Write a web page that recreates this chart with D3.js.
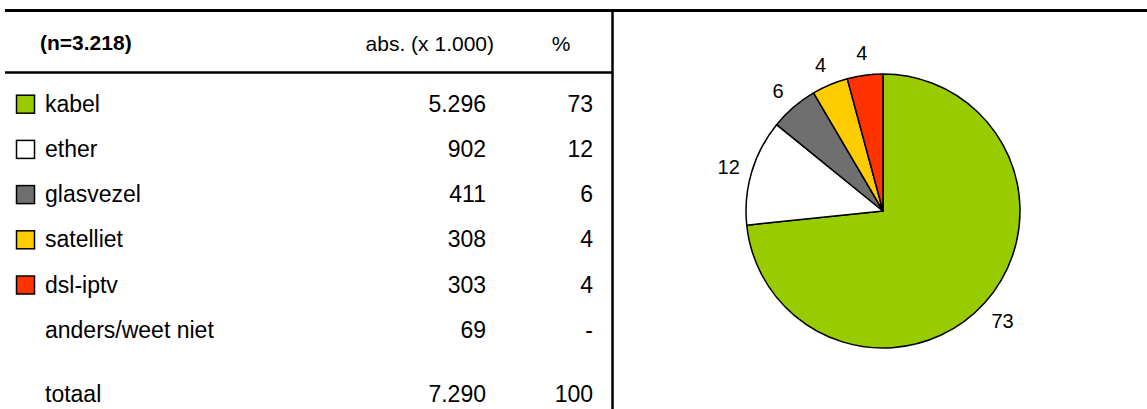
<!DOCTYPE html>
<html>
<head>
<meta charset="utf-8">
<script src="https://cdn.jsdelivr.net/npm/d3@7"></script>
<style>
  body { margin: 0; background: #fff; }
  text { font-family: "Liberation Sans", Arial, sans-serif; fill: #000; }
</style>
</head>
<body>
<div id="chart"></div>
<script>
// data
const categories = ["kabel", "ether", "glasvezel", "satelliet", "dsl-iptv"];
const absValues  = [5296, 902, 411, 308, 303];
const pctValues  = [73, 12, 6, 4, 4];
const colors     = ["#99cc00", "#ffffff", "#6f6f6f", "#ffcc00", "#ff3300"];
const otherRow   = { label: "anders/weet niet", abs: 69, pct: "-" };
const totalRow   = { label: "totaal", abs: 7290, pct: 100 };
const headers    = ["(n=3.218)", "abs. (x 1.000)", "%"];

function render(){
  let width = 1147, height = 409,
      absRight = 486, pctRight = 593,
      labelX = 45,
      cx = 883, cy = 211, radius = 137;

  const nl = d3.formatLocale({decimal: ",", thousands: ".", grouping: [3], currency: ["", ""]});
  const fmt = nl.format(",d");

  const svg = d3.select("#chart").append("svg")
                .attr("width", width).attr("height", height);

  // frame lines
  svg.append("line").attr("x1", 5).attr("x2", width).attr("y1", 10.5).attr("y2", 10.5)
     .attr("stroke", "#000").attr("stroke-width", 3);
  svg.append("line").attr("x1", 5).attr("x2", 612).attr("y1", 72.5).attr("y2", 72.5)
     .attr("stroke", "#000").attr("stroke-width", 2.5);
  svg.append("line").attr("x1", 612.5).attr("x2", 612.5).attr("y1", 10).attr("y2", height)
     .attr("stroke", "#000").attr("stroke-width", 2.5);

  // header
  svg.append("text").attr("x", 40).attr("y", 50).text(headers[0])
     .style("font-size", "21px").style("font-weight", "bold");
  svg.append("text").attr("x", 494).attr("y", 51).attr("text-anchor", "end").text(headers[1])
     .style("font-size", "21px");
  svg.append("text").attr("x", 561).attr("y", 51).attr("text-anchor", "middle").text(headers[2])
     .style("font-size", "21px");

  // table rows
  const rows = categories.map((c, i) => ({label: c, abs: fmt(absValues[i]), pct: pctValues[i], color: colors[i]}));
  rows.push({label: otherRow.label, abs: fmt(otherRow.abs), pct: otherRow.pct, color: null});

  const y = d3.scaleLinear().domain([0, rows.length - 1]).range([111.7, 337.7]);

  const row = svg.append("g").selectAll("g").data(rows).enter().append("g")
                 .attr("transform", (d, i) => `translate(0,${y(i)})`)
                 .style("font-size", "23px");
  row.filter(d => d.color).append("rect")
     .attr("x", 16.5).attr("y", -16.5).attr("width", 18).attr("height", 18)
     .attr("fill", d => d.color).attr("stroke", "#000").attr("stroke-width", 1.5);
  row.append("text").attr("x", labelX).text(d => d.label);
  row.append("text").attr("x", absRight).attr("text-anchor", "end").text(d => d.abs);
  row.append("text").attr("x", pctRight).attr("text-anchor", "end").text(d => d.pct);

  const tot = svg.append("g").attr("transform", "translate(0,402)").style("font-size", "23px");
  tot.append("text").attr("x", labelX).text(totalRow.label);
  tot.append("text").attr("x", absRight).attr("text-anchor", "end").text(fmt(totalRow.abs));
  tot.append("text").attr("x", pctRight).attr("text-anchor", "end").text(totalRow.pct);

  // pie
  const pie = d3.pie().sort(null).value(d => d);
  const arcs = pie(absValues);
  const arc = d3.arc().innerRadius(0).outerRadius(radius);
  const labelArc = d3.arc().innerRadius(radius + 24).outerRadius(radius + 24);

  const g = svg.append("g").attr("transform", `translate(${cx},${cy})`);
  g.selectAll("path").data(arcs).enter().append("path")
   .attr("d", arc)
   .attr("fill", (d, i) => colors[i])
   .attr("stroke", "#000").attr("stroke-width", 1.5).attr("stroke-linejoin", "round");

  g.selectAll("text.lbl").data(arcs).enter().append("text").attr("class", "lbl")
   .attr("transform", d => `translate(${labelArc.centroid(d)})`)
   .attr("text-anchor", "middle").attr("dy", "0.45em")
   .style("font-size", "20px")
   .text((d, i) => pctValues[i]);
}

render();
</script>
</body>
</html>
